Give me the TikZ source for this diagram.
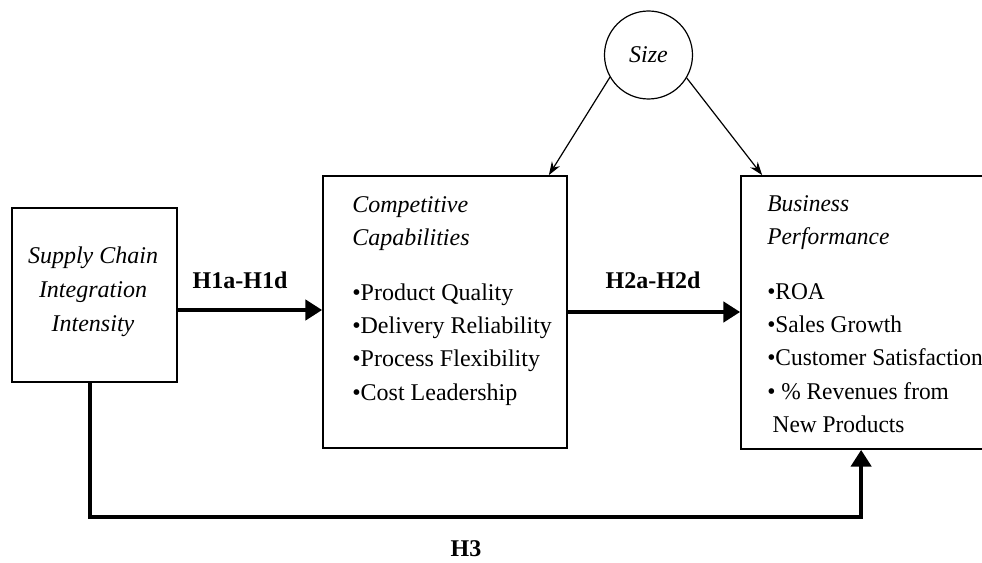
\documentclass[tikz,border=0pt]{standalone}
\usepackage{fontspec}
\setmainfont{Liberation Serif}
\usetikzlibrary{arrows.meta}
\begin{document}
\begin{tikzpicture}[x=0.75pt,y=-0.75pt,
  box/.style={draw,line width=1.3pt,inner sep=0pt},
  body/.style={font=\fontsize{18}{25}\selectfont,align=left,anchor=north west,inner sep=0pt},
  bigarrow/.style={line width=3pt,-{Triangle[length=12.5pt,width=15pt]}},
  thinarrow/.style={line width=0.9pt,-{Stealth[length=10pt,width=7pt]}},
  hlabel/.style={font=\fontsize{18}{20}\selectfont\bfseries,inner sep=0pt}]
\useasboundingbox (0,0) rectangle (982,563);
\clip (0,0) rectangle (982,563);

% construct boxes
\node[box,minimum width=123.75pt,minimum height=130.5pt] (scic) at (94.5,295) {};
\node[box,minimum width=183pt,minimum height=204pt] (cc) at (445,312) {};
\node[box,minimum width=195pt,minimum height=204.75pt] (bp) at (871,312.5) {};
\node[draw,circle,line width=0.9pt,minimum size=66pt,inner sep=0pt,
      font=\fontsize{18}{20}\selectfont\itshape] (size) at (648.5,55) {Size};

% box contents
\node[font=\fontsize{18}{25.5}\selectfont\itshape,align=center,inner sep=0pt] (scictext) at (93,292)
  {Supply Chain\\Integration\\Intensity};
\node[body] (cctext) at (352,196)
  {\textit{Competitive}\\\textit{Capabilities}\\[16pt]
   •Product Quality\\•Delivery Reliability\\•Process Flexibility\\•Cost Leadership};
\node[body,font=\fontsize{18}{25}\selectfont\addfontfeature{FakeStretch=0.975}] (bptext) at (767,195)
  {\textit{Business}\\\textit{Performance}\\[16pt]
   •ROA\\•Sales Growth\\•Customer Satisfaction\\• \% Revenues from\\\hspace*{4pt}New Products};

% hypothesised paths
\draw[bigarrow] ([yshift=-11.25pt]scic.east) -- ([yshift=-11.25pt]scic.east -| cc.west);
\draw[bigarrow] (cc.east) -- (cc.east -| bp.west);
\draw[bigarrow,line join=miter] ([xshift=-3.4pt]scic.south) -- ++(0,134) -| ([xshift=90.75pt]bp.south west);
\draw[thinarrow] (size.210) -- ([xshift=-14.25pt]cc.north east);
\draw[thinarrow] (size.329) -- ([xshift=16.5pt]bp.north west);

% path labels
\node[hlabel] (h1) at (240,280) {H1a-H1d};
\node[hlabel] (h2) at (653,280) {H2a-H2d};
\node[hlabel] (h3) at (466,549) {H3};
\end{tikzpicture}
\end{document}
